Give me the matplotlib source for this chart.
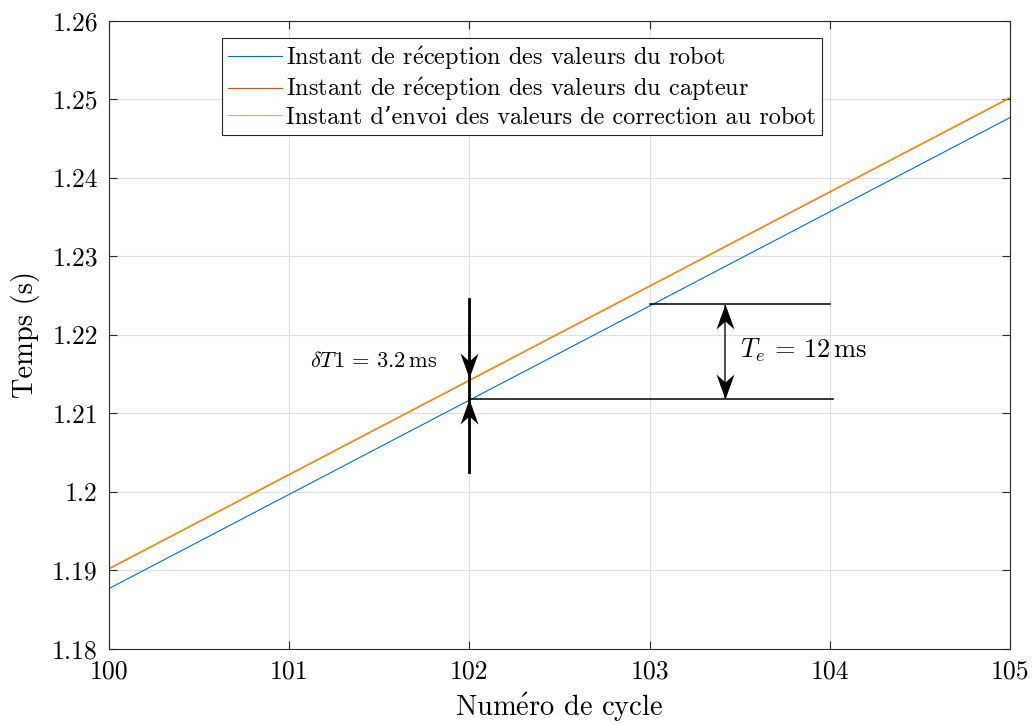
import matplotlib
matplotlib.use("Agg")
import matplotlib.pyplot as plt
from matplotlib.path import Path
from matplotlib.ticker import FuncFormatter
import numpy as np

plt.rcParams['font.family'] = ['cmr10', 'DejaVu Serif']
plt.rcParams['mathtext.fontset'] = 'cm'
plt.rcParams['axes.formatter.use_mathtext'] = True

# ---- data ----
cycles = [100, 101, 102, 103, 104, 105]
t_robot = [1.1877, 1.1997, 1.2117, 1.2237, 1.2357, 1.2477]
t_capteur = [1.1902, 1.2022, 1.2142, 1.2262, 1.2382, 1.2502]
t_envoi = [1.1903, 1.2023, 1.2143, 1.2263, 1.2383, 1.2503]
x_ticks = [100, 101, 102, 103, 104, 105]
y_ticks = [1.18, 1.19, 1.20, 1.21, 1.22, 1.23, 1.24, 1.25, 1.26]
labels = ["Instant de r$\\acute{\\mathrm{e}}$ception des valeurs du robot",
          "Instant de r$\\acute{\\mathrm{e}}$ception des valeurs du capteur",
          "Instant d\u2019envoi des valeurs de correction au robot"]
colors = ['#0072BD', '#D95319', '#EDB120']

# annotation values
dT_x = 102
dT_line = (1.2025, 1.2246)
dT_tips = (1.2145, 1.2118)
Te_x = 103.42
Te_lo, Te_hi = 1.2118, 1.2239
Te_lo_span = (102, 104.02)
Te_hi_span = (103, 104)

fig = plt.figure(figsize=(10.34, 7.24), dpi=100)
ax = fig.add_axes([0.1054, 0.1036, 0.8714, 0.8674])

for y, c, lab in zip([t_robot, t_capteur, t_envoi], colors, labels):
    ax.plot(cycles, y, color=c, lw=0.8, label=lab)

ax.set_xlim(100, 105)
ax.set_ylim(1.18, 1.26)
ax.set_xticks(x_ticks)
ax.set_yticks(y_ticks)
fmt = FuncFormatter(lambda v, p: ('%g' % round(v, 4)))
ax.xaxis.set_major_formatter(fmt)
ax.yaxis.set_major_formatter(fmt)
ax.tick_params(direction='in', length=6, width=0.8, labelsize=18.5, colors='#262626',
               top=True, right=True, pad=8)
ax.tick_params(labelcolor='black')
for s in ax.spines.values():
    s.set_color('#262626')
    s.set_linewidth(0.8)
ax.grid(True, color='#dfdfdf', lw=0.8)
ax.set_axisbelow(True)

ax.set_xlabel("Num$\\acute{\\mathrm{e}}$ro de cycle", fontsize=20.5, labelpad=5)
ax.set_ylabel("Temps (s)", fontsize=20.5, labelpad=9)

leg = ax.legend(loc='upper left', bbox_to_anchor=(0.1254, 0.973), fontsize=17.5,
                frameon=True, fancybox=False, edgecolor='#262626', framealpha=1,
                borderpad=0.25, labelspacing=0.15, handlelength=2.2, handletextpad=0.2,
                borderaxespad=0)
leg.get_frame().set_linewidth(0.8)

# arrow head marker (tip at origin, pointing up)
verts = [(0, 0), (-9, -25), (0, -17), (9, -25), (0, 0)]
up_head = Path(verts, [Path.MOVETO, Path.LINETO, Path.LINETO, Path.LINETO, Path.CLOSEPOLY])
down_head = Path([(x, -y) for x, y in verts], up_head.codes)
ms = 50 / (100 / 72)

# delta T annotation
ax.plot([dT_x, dT_x], dT_line, color='k', lw=2, zorder=5)
ax.plot([dT_x], [dT_tips[0]], marker=down_head, ms=ms, color='k', mew=0, zorder=6)
ax.plot([dT_x], [dT_tips[1]], marker=up_head, ms=ms, color='k', mew=0, zorder=6)
ax.text(101.115, 1.2167, r"$\delta T1 \,=\, 3.2\,\mathrm{ms}$", fontsize=16.2, va='center', ha='left')

# Te annotation
ax.plot(Te_lo_span, [Te_lo, Te_lo], color='k', lw=1.1, zorder=4)
ax.plot(Te_hi_span, [Te_hi, Te_hi], color='k', lw=1.1, zorder=4)
ax.plot([Te_x, Te_x], [Te_lo, Te_hi], color='#404040', lw=1.3, zorder=5)
ax.plot([Te_x], [Te_hi], marker=up_head, ms=ms, color='k', mew=0, zorder=6)
ax.plot([Te_x], [Te_lo], marker=down_head, ms=ms, color='k', mew=0, zorder=6)
ax.text(103.5, 1.2181, r"$T_e \,=\, 12\,\mathrm{ms}$", fontsize=19, va='center', ha='left')

fig.savefig('out.png', dpi=100)
